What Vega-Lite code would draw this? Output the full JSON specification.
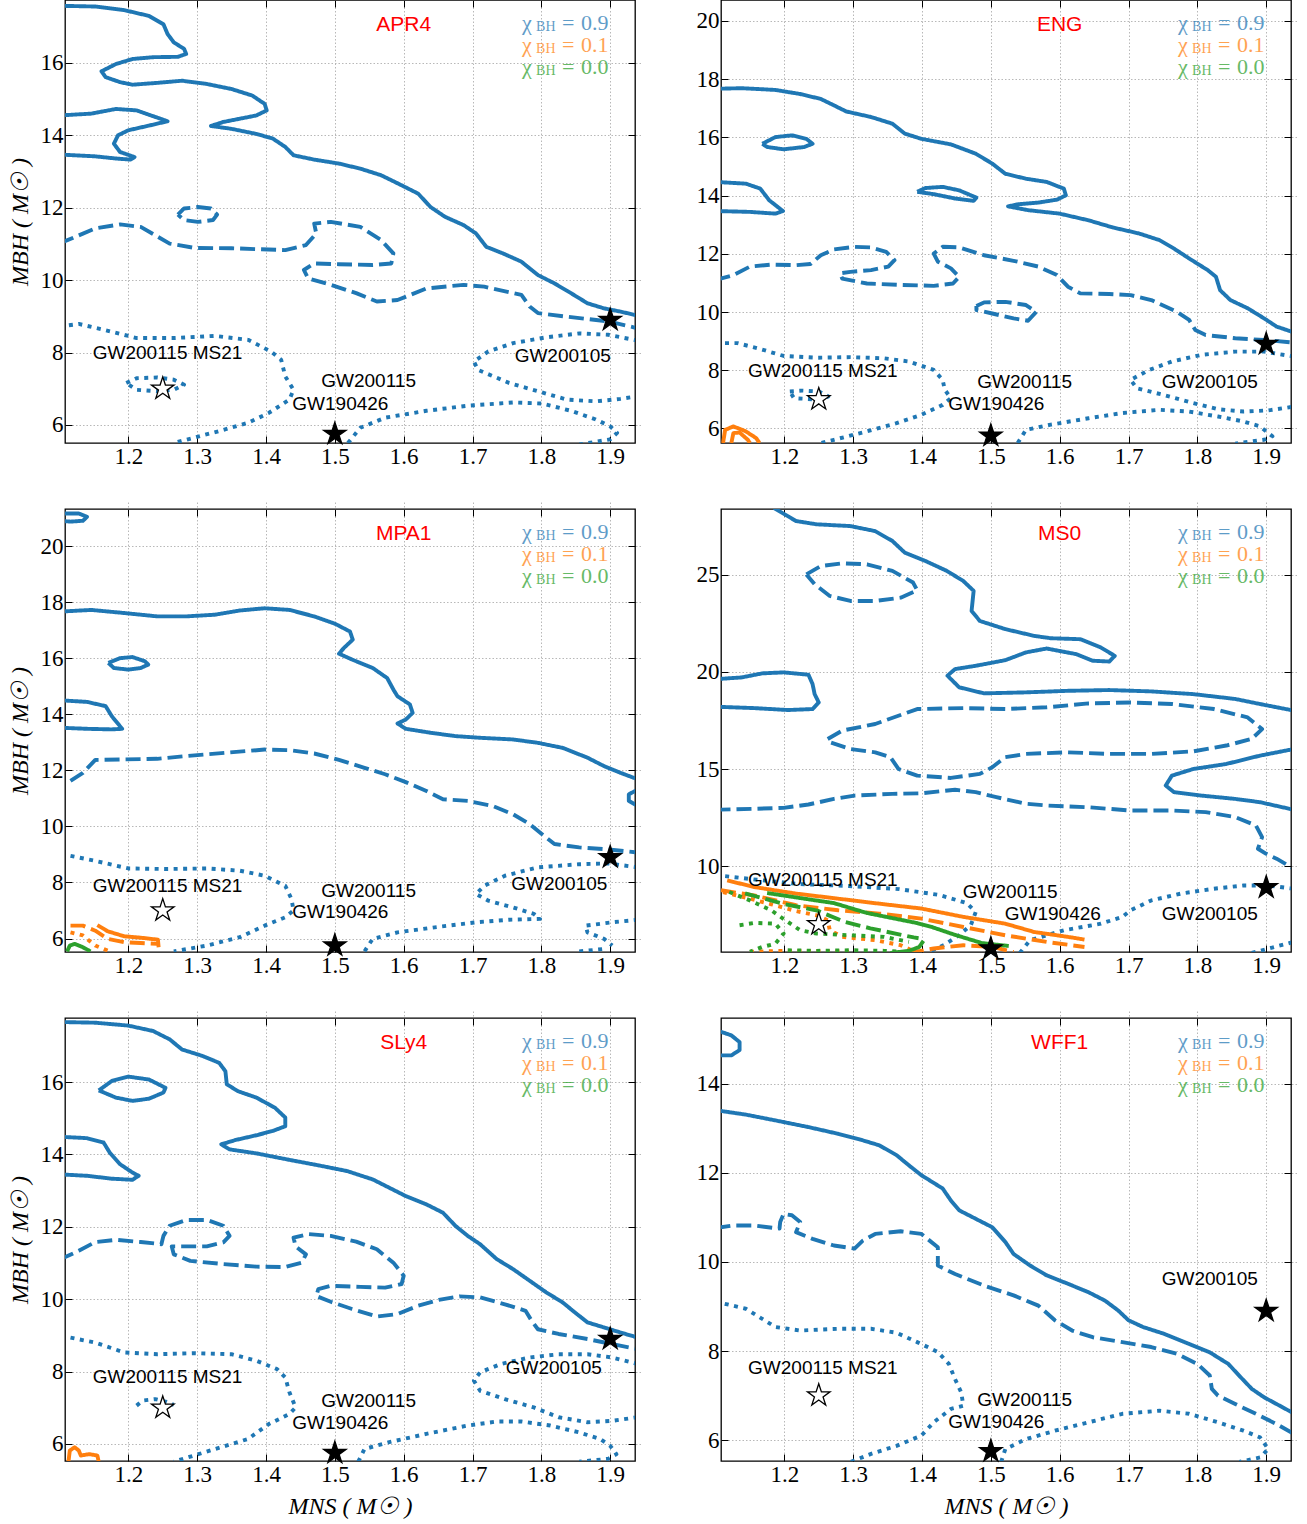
{
"$schema":"https://vega.github.io/schema/vega-lite/v6.json",
"padding":{"left":7,"top":-2,"right":5,"bottom":5},
"config":{
 "view":{"stroke":"#000","strokeWidth":1.3},
 "axis":{"domain":false,"tickColor":"#000","tickSize":7,"offset":-7,"tickWidth":1,"labelFont":"Liberation Serif","labelFontSize":23,"labelColor":"#000","labelPadding":2,"labelFlush":false,"labelOverlap":false,"gridColor":"#b0b0b0","gridDash":[1.5,2],"gridWidth":0.9,"titleFont":"Liberation Serif","titleFontSize":24,"titleFontStyle":"italic","titleFontWeight":"normal","titleColor":"#000","titlePadding":8},
 "line":{"strokeWidth":3.9,"strokeJoin":"round"},
 "text":{"font":"Liberation Sans","fontSize":19,"baseline":"middle","align":"center","color":"#000"}
},
"datasets":{
 "stars":[{"x":1.25,"y":7.0,"f":"open"},{"x":1.5,"y":5.75,"f":"filled"},{"x":1.9,"y":8.9,"f":"filled"}],
 "apr4":[
  {"c":"a","k":"0.9","s":"solid","x":[1.100,1.152,1.194,1.230,1.251,1.257,1.266,1.281,1.284,1.272,1.236,1.206,1.182,1.161,1.167,1.188,1.206,1.242,1.278,1.314,1.350,1.380,1.398,1.401,1.386,1.362,1.338,1.320,1.350,1.386,1.410,1.428,1.440,1.470,1.506,1.537,1.567,1.597,1.621,1.639,1.660,1.687,1.705,1.720,1.744,1.771,1.795,1.819,1.843,1.867,1.891,1.915,1.940],"y":[17.58,17.56,17.46,17.30,17.07,16.80,16.57,16.39,16.25,16.17,16.16,16.11,15.97,15.77,15.61,15.47,15.40,15.45,15.51,15.42,15.28,15.10,14.87,14.69,14.55,14.46,14.37,14.26,14.18,14.04,13.91,13.68,13.45,13.33,13.22,13.08,12.90,12.62,12.39,12.02,11.75,11.52,11.29,10.92,10.74,10.51,10.14,9.91,9.64,9.36,9.22,9.13,9.02]},
  {"c":"b","k":"0.9","s":"solid","x":[1.100,1.146,1.182,1.212,1.257,1.230,1.200,1.185,1.179,1.188,1.209,1.203,1.182,1.152,1.100],"y":[14.55,14.60,14.73,14.69,14.39,14.27,14.14,14.00,13.77,13.54,13.40,13.33,13.36,13.42,13.47]},
  {"c":"c","k":"0.9","s":"dashed","x":[1.272,1.281,1.301,1.320,1.329,1.323,1.301,1.281,1.272],"y":[11.81,11.98,12.02,11.98,11.81,11.66,11.61,11.66,11.81]},
  {"c":"d","k":"0.9","s":"dashed","x":[1.100,1.152,1.188,1.218,1.260,1.296,1.350,1.428,1.458,1.473,1.470,1.494,1.537,1.567,1.585,1.582,1.555,1.506,1.470,1.455,1.461,1.494,1.531,1.561,1.591,1.633,1.687,1.717,1.771,1.783,1.795,1.837,1.897,1.940],"y":[11.01,11.43,11.54,11.47,11.01,10.89,10.88,10.83,10.97,11.29,11.56,11.61,11.47,11.11,10.74,10.46,10.42,10.44,10.46,10.28,10.05,9.87,9.64,9.41,9.45,9.77,9.87,9.82,9.59,9.27,9.09,8.99,8.86,8.67]},
  {"c":"e","k":"0.9","s":"dotted","x":[1.100,1.128,1.164,1.212,1.266,1.326,1.374,1.407,1.422,1.428,1.440,1.434,1.404,1.374,1.332,1.266],"y":[8.72,8.79,8.63,8.40,8.40,8.46,8.35,8.03,7.80,7.34,6.97,6.70,6.33,6.06,5.83,5.50]},
  {"c":"f","k":"0.9","s":"dotted","x":[1.197,1.212,1.242,1.266,1.281,1.266,1.242,1.212,1.197],"y":[7.16,7.29,7.31,7.25,7.11,6.97,6.93,6.97,7.16]},
  {"c":"g","k":"0.9","s":"dotted","x":[1.519,1.537,1.573,1.633,1.693,1.759,1.801,1.843,1.879,1.900,1.910,1.900,1.855],"y":[5.50,5.92,6.20,6.39,6.53,6.62,6.59,6.39,6.15,5.96,5.78,5.60,5.46]},
  {"c":"h","k":"0.9","s":"dotted","x":[1.940,1.897,1.855,1.807,1.759,1.723,1.702,1.708,1.753,1.795,1.837,1.879,1.915,1.940],"y":[8.33,8.49,8.53,8.42,8.26,8.03,7.75,7.52,7.16,6.93,6.70,6.65,6.72,6.79]}
 ],
 "apr4_t":[{"t":"GW200115 MS21","x":1.257,"y":8.0},{"t":"GW200115","x":1.549,"y":7.2},{"t":"GW190426","x":1.508,"y":6.59},{"t":"GW200105","x":1.831,"y":7.9}],
 "apr4_l":[{"v":"0.9","x":1.772,"y":17.10},{"v":"0.1","x":1.772,"y":16.50},{"v":"0.0","x":1.772,"y":15.89}],
 "eng":[
  {"c":"a","k":"0.9","s":"solid","x":[1.100,1.138,1.187,1.223,1.253,1.272,1.290,1.326,1.357,1.375,1.399,1.442,1.478,1.502,1.521,1.551,1.581,1.606,1.609,1.596,1.569,1.539,1.525,1.554,1.600,1.642,1.678,1.715,1.745,1.766,1.788,1.815,1.827,1.833,1.848,1.873,1.897,1.915,1.940],"y":[17.67,17.69,17.63,17.49,17.32,17.10,16.89,16.70,16.47,16.13,15.95,15.76,15.44,15.10,14.75,14.58,14.47,14.24,14.01,13.86,13.76,13.70,13.63,13.50,13.38,13.15,12.90,12.70,12.47,12.18,11.84,11.44,11.21,10.75,10.41,10.13,9.78,9.50,9.30]},
  {"c":"b","k":"0.9","s":"solid","x":[1.100,1.144,1.165,1.178,1.198,1.187,1.150,1.100],"y":[14.47,14.41,14.24,13.84,13.47,13.38,13.44,13.47]},
  {"c":"c","k":"0.9","s":"solid","x":[1.168,1.187,1.211,1.232,1.241,1.229,1.199,1.175,1.168],"y":[15.78,16.01,16.07,15.95,15.78,15.67,15.59,15.67,15.78]},
  {"c":"d","k":"0.9","s":"solid","x":[1.393,1.405,1.430,1.454,1.479,1.475,1.448,1.417,1.393],"y":[14.13,14.26,14.30,14.18,13.93,13.82,13.90,14.05,14.13]},
  {"c":"e","k":"0.9","s":"dashed","x":[1.100,1.126,1.150,1.181,1.217,1.238,1.253,1.272,1.302,1.326,1.348,1.360,1.351,1.326,1.296,1.281,1.284,1.320,1.369,1.417,1.445,1.454,1.442,1.423,1.417,1.430,1.454,1.490,1.533,1.569,1.596,1.612,1.630,1.672,1.703,1.733,1.770,1.788,1.797,1.812,1.855,1.897,1.940],"y":[11.10,11.27,11.56,11.63,11.61,11.65,11.95,12.15,12.24,12.22,12.07,11.78,11.56,11.44,11.38,11.33,11.15,10.98,10.93,10.90,10.98,11.21,11.50,11.73,12.01,12.24,12.22,11.95,11.76,11.56,11.27,10.87,10.64,10.62,10.58,10.41,10.01,9.73,9.38,9.21,9.10,9.04,8.95]},
  {"c":"f","k":"0.9","s":"dashed","x":[1.479,1.490,1.521,1.551,1.566,1.554,1.533,1.502,1.479,1.479],"y":[10.21,10.33,10.35,10.24,10.01,9.70,9.78,9.95,10.07,10.21]},
  {"c":"g","k":"0.9","s":"dotted","x":[1.100,1.132,1.162,1.199,1.247,1.296,1.345,1.381,1.417,1.430,1.433,1.442,1.430,1.399,1.363,1.320,1.272,1.253],"y":[8.93,8.93,8.75,8.49,8.43,8.45,8.41,8.30,8.01,7.67,7.33,7.04,6.81,6.47,6.18,5.90,5.61,5.50]},
  {"c":"h","k":"0.9","s":"dotted","x":[1.208,1.226,1.250,1.264,1.253,1.229,1.214,1.208],"y":[7.27,7.30,7.27,7.10,6.98,7.02,7.04,7.27]},
  {"c":"i","k":"0.9","s":"dotted","x":[1.940,1.897,1.855,1.806,1.763,1.730,1.703,1.712,1.751,1.794,1.830,1.867,1.903,1.940],"y":[8.47,8.64,8.64,8.53,8.30,8.01,7.67,7.38,7.15,6.87,6.66,6.58,6.62,6.75]},
  {"c":"j","k":"0.9","s":"dotted","x":[1.539,1.551,1.587,1.642,1.691,1.745,1.788,1.830,1.867,1.891,1.909,1.897,1.855],"y":[5.50,5.95,6.13,6.35,6.53,6.64,6.58,6.41,6.24,6.07,5.73,5.61,5.48]},
  {"c":"k","k":"0.1","s":"solid","x":[1.111,1.114,1.126,1.144,1.159,1.164],"y":[5.50,5.95,6.07,5.90,5.67,5.50]},
  {"c":"l","k":"0.1","s":"solid","x":[1.123,1.126,1.135,1.147,1.150],"y":[5.50,5.84,5.86,5.61,5.50]}
 ],
 "eng_t":[{"t":"GW200115 MS21","x":1.256,"y":7.99},{"t":"GW200115","x":1.549,"y":7.61},{"t":"GW190426","x":1.508,"y":6.85},{"t":"GW200105","x":1.818,"y":7.61}],
 "eng_l":[{"v":"0.9","x":1.772,"y":19.93},{"v":"0.1","x":1.772,"y":19.17},{"v":"0.0","x":1.772,"y":18.42}],
 "mpa1":[
  {"c":"a","k":"0.9","s":"solid","x":[1.100,1.146,1.194,1.242,1.284,1.326,1.362,1.398,1.434,1.470,1.500,1.522,1.526,1.513,1.506,1.525,1.555,1.576,1.585,1.591,1.609,1.613,1.603,1.591,1.603,1.639,1.675,1.711,1.759,1.795,1.831,1.867,1.891,1.915,1.940],"y":[17.66,17.72,17.61,17.49,17.49,17.55,17.70,17.78,17.72,17.49,17.23,16.95,16.66,16.36,16.16,15.95,15.65,15.29,14.88,14.64,14.35,14.05,13.81,13.67,13.48,13.34,13.22,13.16,13.10,12.98,12.80,12.45,12.15,11.91,11.68]},
  {"c":"b","k":"0.9","s":"solid","x":[1.100,1.140,1.167,1.176,1.191,1.176,1.140,1.100],"y":[14.50,14.44,14.29,13.93,13.48,13.46,13.48,13.52]},
  {"c":"c","k":"0.9","s":"solid","x":[1.171,1.188,1.206,1.224,1.229,1.218,1.200,1.179,1.171],"y":[15.83,16.00,16.04,15.89,15.77,15.65,15.59,15.65,15.83]},
  {"c":"d","k":"0.9","s":"solid","x":[1.100,1.128,1.140,1.134,1.116,1.100],"y":[21.16,21.16,21.04,20.90,20.87,20.90]},
  {"c":"e","k":"0.9","s":"solid","x":[1.940,1.927,1.927,1.940],"y":[11.32,11.14,10.91,10.73]},
  {"c":"f","k":"0.9","s":"dashed","x":[1.116,1.134,1.152,1.194,1.242,1.284,1.344,1.398,1.434,1.470,1.506,1.543,1.573,1.603,1.633,1.657,1.693,1.729,1.759,1.783,1.801,1.819,1.855,1.891,1.940],"y":[11.62,11.91,12.37,12.39,12.41,12.51,12.63,12.74,12.72,12.60,12.37,12.09,11.86,11.58,11.26,10.97,10.91,10.73,10.43,10.08,9.72,9.37,9.25,9.19,9.07]},
  {"c":"g","k":"0.9","s":"dotted","x":[1.116,1.152,1.200,1.254,1.314,1.362,1.398,1.428,1.437,1.440,1.428,1.398,1.362,1.314,1.266],"y":[8.95,8.77,8.50,8.48,8.50,8.42,8.24,7.88,7.41,7.00,6.76,6.46,6.05,5.75,5.54]},
  {"c":"h","k":"0.9","s":"dotted","x":[1.940,1.897,1.855,1.795,1.747,1.717,1.705,1.723,1.759,1.789,1.798,1.753,1.705,1.645,1.591,1.555,1.543],"y":[8.54,8.68,8.65,8.54,8.24,7.88,7.59,7.35,7.11,6.88,6.70,6.67,6.58,6.40,6.22,5.99,5.54]},
  {"c":"i","k":"0.9","s":"dotted","x":[1.940,1.903,1.864,1.867,1.891,1.903],"y":[6.67,6.58,6.46,6.22,5.99,5.75]},
  {"c":"j","k":"0.9","s":"dotted","x":[1.855,1.891],"y":[5.54,5.63]},
  {"c":"k","k":"0.1","s":"solid","x":[1.155,1.170,1.194,1.218,1.243,1.244],"y":[6.48,6.26,6.08,6.03,5.96,5.69]},
  {"c":"l","k":"0.1","s":"dashed","x":[1.116,1.134,1.152,1.170,1.194,1.218,1.242],"y":[6.46,6.46,6.28,5.99,5.87,5.84,5.81]},
  {"c":"m","k":"0.1","s":"dotted","x":[1.116,1.134,1.152,1.170],"y":[6.22,6.11,5.75,5.57]},
  {"c":"n","k":"0.0","s":"solid","x":[1.111,1.115,1.122,1.134,1.143,1.145],"y":[5.54,5.75,5.81,5.69,5.57,5.54]}
 ],
 "mpa1_t":[{"t":"GW200115 MS21","x":1.257,"y":7.88},{"t":"GW200115","x":1.549,"y":7.71},{"t":"GW190426","x":1.508,"y":6.94},{"t":"GW200105","x":1.826,"y":7.94}],
 "mpa1_l":[{"v":"0.9","x":1.772,"y":20.50},{"v":"0.1","x":1.772,"y":19.72},{"v":"0.0","x":1.772,"y":18.93}],
 "ms0":[
  {"c":"a","k":"0.9","s":"solid","x":[1.185,1.217,1.247,1.296,1.332,1.357,1.375,1.405,1.436,1.460,1.475,1.472,1.484,1.521,1.563,1.587,1.630,1.660,1.680,1.672,1.648,1.624,1.581,1.551,1.521,1.478,1.448,1.437,1.454,1.490,1.551,1.612,1.672,1.733,1.794,1.855,1.891,1.940],"y":[28.45,27.78,27.61,27.52,27.26,26.75,26.15,25.72,25.21,24.69,24.18,23.15,22.63,22.21,21.86,21.74,21.69,21.26,20.83,20.54,20.58,20.92,21.21,21.01,20.61,20.32,20.15,19.81,19.21,18.90,18.95,19.03,19.07,19.00,18.86,18.61,18.35,18.01]},
  {"c":"b","k":"0.9","s":"solid","x":[1.100,1.138,1.168,1.199,1.235,1.241,1.244,1.250,1.241,1.205,1.156,1.100],"y":[19.63,19.72,19.93,19.98,19.86,19.38,18.86,18.43,18.09,18.04,18.14,18.21]},
  {"c":"c","k":"0.9","s":"solid","x":[1.940,1.891,1.842,1.794,1.763,1.754,1.766,1.806,1.855,1.891,1.940],"y":[16.03,15.69,15.26,15.00,14.66,14.15,13.81,13.63,13.46,13.29,12.90]},
  {"c":"d","k":"0.9","s":"dashed","x":[1.232,1.253,1.284,1.320,1.357,1.387,1.393,1.369,1.332,1.296,1.266,1.244,1.232],"y":[25.03,25.46,25.60,25.55,25.21,24.61,24.21,23.83,23.66,23.66,23.92,24.52,25.03]},
  {"c":"e","k":"0.9","s":"dashed","x":[1.263,1.284,1.332,1.393,1.460,1.521,1.581,1.642,1.703,1.763,1.824,1.873,1.894,1.879,1.842,1.794,1.733,1.672,1.612,1.551,1.521,1.502,1.484,1.442,1.393,1.366,1.354,1.332,1.296,1.266,1.263],"y":[16.55,16.98,17.32,18.09,18.14,18.09,18.18,18.38,18.43,18.35,18.09,17.66,17.06,16.55,16.21,15.91,15.78,15.78,15.86,15.78,15.61,15.09,14.75,14.54,14.66,15.00,15.61,15.86,16.03,16.38,16.55]},
  {"c":"f","k":"0.9","s":"dashed","x":[1.100,1.156,1.199,1.235,1.272,1.302,1.357,1.399,1.448,1.478,1.508,1.551,1.581,1.642,1.703,1.763,1.812,1.855,1.885,1.894,1.888,1.900,1.915,1.940],"y":[12.90,12.95,13.00,13.17,13.46,13.63,13.72,13.75,13.93,13.81,13.55,13.21,13.12,13.03,12.86,12.86,12.78,12.52,12.09,11.49,10.89,10.63,10.38,9.86]},
  {"c":"g","k":"0.9","s":"dotted","x":[1.542,1.557,1.606,1.660,1.691,1.703,1.733,1.776,1.824,1.867,1.903,1.940],"y":[5.52,6.18,6.69,7.03,7.38,7.72,8.23,8.58,8.83,9.00,9.00,8.83]},
  {"c":"h","k":"0.9","s":"dotted","x":[1.879,1.940],"y":[5.52,6.09]},
  {"c":"i","k":"0.9","s":"dotted","x":[1.114,1.164,1.222,1.294,1.367,1.425,1.465,1.478,1.471,1.454,1.432,1.410],"y":[9.48,9.28,9.07,8.97,8.81,8.51,8.09,7.63,6.96,6.44,5.93,5.57]},
  {"c":"j","k":"0.1","s":"solid","x":[1.117,1.156,1.217,1.278,1.338,1.399,1.460,1.521,1.563,1.612,1.636],"y":[9.26,8.92,8.58,8.32,8.06,7.81,7.38,7.03,6.60,6.35,6.21]},
  {"c":"k","k":"0.1","s":"dashed","x":[1.108,1.156,1.217,1.278,1.338,1.399,1.460,1.521,1.581,1.636],"y":[8.75,8.49,7.98,7.72,7.55,7.29,6.86,6.43,6.09,5.83]},
  {"c":"l","k":"0.1","s":"dashed","x":[1.381,1.417,1.460,1.502,1.533],"y":[5.52,5.75,5.92,5.83,5.57]},
  {"c":"m","k":"0.1","s":"dotted","x":[1.111,1.144,1.181,1.217,1.247,1.263,1.266,1.284,1.332,1.369,1.393],"y":[8.66,8.37,8.03,7.68,7.46,7.21,6.69,6.35,6.18,5.92,5.52]},
  {"c":"n","k":"0.1","s":"dotted","x":[1.150,1.187,1.247,1.296],"y":[5.58,5.62,5.62,5.58]},
  {"c":"o","k":"0.0","s":"solid","x":[1.175,1.223,1.272,1.320,1.393,1.414,1.449,1.487,1.526],"y":[8.61,8.35,8.09,7.58,7.06,6.86,6.44,6.03,5.88]},
  {"c":"p","k":"0.0","s":"solid","x":[1.354,1.381,1.396,1.402],"y":[5.52,5.63,5.83,6.14]},
  {"c":"q","k":"0.0","s":"dashed","x":[1.143,1.200,1.248,1.287,1.325,1.388,1.395],"y":[8.59,8.04,7.70,7.13,6.79,6.32,6.28]},
  {"c":"r","k":"0.0","s":"dotted","x":[1.120,1.150,1.181,1.205,1.223,1.247,1.296,1.345,1.381],"y":[8.66,8.23,7.72,7.12,6.69,6.52,6.43,6.35,6.09]},
  {"c":"s","k":"0.0","s":"dotted","x":[1.135,1.156,1.187,1.199,1.187,1.168,1.150],"y":[6.95,7.07,7.03,6.52,6.00,5.83,5.58]},
  {"c":"t","k":"0.0","s":"dotted","x":[1.205,1.247,1.296,1.345,1.369],"y":[5.66,5.63,5.66,5.63,5.58]}
 ],
 "ms0_t":[{"t":"GW200115 MS21","x":1.256,"y":9.26},{"t":"GW200115","x":1.528,"y":8.66},{"t":"GW190426","x":1.590,"y":7.55},{"t":"GW200105","x":1.818,"y":7.55}],
 "ms0_l":[{"v":"0.9","x":1.772,"y":27.21},{"v":"0.1","x":1.772,"y":26.08},{"v":"0.0","x":1.772,"y":24.95}],
 "sly4":[
  {"c":"a","k":"0.9","s":"solid","x":[1.100,1.152,1.200,1.236,1.260,1.278,1.308,1.332,1.341,1.343,1.359,1.386,1.413,1.428,1.428,1.410,1.386,1.356,1.335,1.347,1.386,1.434,1.476,1.518,1.555,1.579,1.603,1.633,1.657,1.675,1.693,1.711,1.735,1.759,1.783,1.807,1.831,1.849,1.867,1.891,1.915,1.940],"y":[17.66,17.64,17.56,17.41,17.18,16.90,16.72,16.53,16.30,15.94,15.75,15.57,15.29,15.02,14.78,14.65,14.53,14.40,14.28,14.14,14.03,13.85,13.70,13.54,13.31,13.08,12.85,12.62,12.39,12.03,11.75,11.52,11.11,10.83,10.51,10.19,9.91,9.63,9.36,9.22,9.08,8.94]},
  {"c":"b","k":"0.9","s":"solid","x":[1.100,1.140,1.164,1.173,1.188,1.206,1.215,1.206,1.176,1.140,1.100],"y":[14.49,14.45,14.33,14.05,13.73,13.50,13.41,13.30,13.33,13.41,13.45]},
  {"c":"c","k":"0.9","s":"solid","x":[1.157,1.176,1.200,1.230,1.254,1.251,1.230,1.206,1.182,1.157],"y":[15.77,16.03,16.15,16.07,15.84,15.71,15.54,15.48,15.57,15.77]},
  {"c":"d","k":"0.9","s":"dashed","x":[1.100,1.128,1.152,1.182,1.218,1.248,1.251,1.260,1.284,1.314,1.338,1.347,1.338,1.314,1.284,1.263,1.266,1.290,1.338,1.386,1.428,1.452,1.458,1.443,1.440,1.461,1.494,1.531,1.561,1.585,1.600,1.597,1.573,1.537,1.494,1.476,1.473,1.494,1.525,1.561,1.591,1.621,1.651,1.681,1.711,1.747,1.777,1.786,1.795,1.825,1.867,1.903,1.940],"y":[11.09,11.34,11.58,11.64,11.58,11.52,11.75,12.03,12.19,12.19,12.03,11.75,11.57,11.46,11.46,11.46,11.24,11.06,10.97,10.90,10.89,11.01,11.24,11.46,11.70,11.80,11.75,11.59,11.38,11.01,10.65,10.42,10.32,10.34,10.37,10.28,10.09,9.93,9.73,9.52,9.59,9.82,9.98,10.08,10.05,9.86,9.68,9.40,9.17,9.04,8.90,8.76,8.62]},
  {"c":"e","k":"0.9","s":"dotted","x":[1.116,1.152,1.194,1.242,1.296,1.350,1.386,1.416,1.428,1.434,1.443,1.434,1.404,1.374,1.326,1.266],"y":[8.94,8.80,8.53,8.48,8.51,8.48,8.30,8.07,7.84,7.43,7.01,6.83,6.55,6.14,5.86,5.51]},
  {"c":"f","k":"0.9","s":"dotted","x":[1.212,1.221,1.239,1.254,1.266],"y":[7.06,7.20,7.24,7.17,7.08]},
  {"c":"g","k":"0.9","s":"dotted","x":[1.940,1.903,1.867,1.825,1.783,1.741,1.711,1.702,1.711,1.747,1.789,1.825,1.867,1.903,1.940],"y":[8.21,8.39,8.48,8.48,8.39,8.21,7.98,7.75,7.47,7.24,7.01,6.74,6.60,6.64,6.74]},
  {"c":"h","k":"0.9","s":"dotted","x":[1.534,1.543,1.579,1.633,1.693,1.735,1.771,1.813,1.855,1.885,1.900,1.909,1.897,1.855],"y":[5.51,5.86,6.05,6.28,6.51,6.62,6.62,6.51,6.32,6.14,5.95,5.72,5.59,5.51]},
  {"c":"i","k":"0.1","s":"solid","x":[1.113,1.115,1.122,1.128,1.131,1.143,1.155,1.157],"y":[5.51,5.82,5.91,5.82,5.68,5.72,5.68,5.51]}
 ],
 "sly4_t":[{"t":"GW200115 MS21","x":1.257,"y":7.84},{"t":"GW200115","x":1.549,"y":7.20},{"t":"GW190426","x":1.508,"y":6.58},{"t":"GW200105","x":1.818,"y":8.09}],
 "sly4_l":[{"v":"0.9","x":1.772,"y":17.13},{"v":"0.1","x":1.772,"y":16.53},{"v":"0.0","x":1.772,"y":15.92}],
 "wff1":[
  {"c":"a","k":"0.9","s":"solid","x":[1.100,1.144,1.187,1.235,1.278,1.308,1.338,1.363,1.381,1.399,1.430,1.442,1.454,1.478,1.502,1.521,1.533,1.557,1.581,1.612,1.642,1.666,1.685,1.700,1.721,1.751,1.788,1.818,1.845,1.863,1.879,1.897,1.915,1.940],"y":[13.41,13.31,13.18,13.03,12.88,12.76,12.62,12.40,12.17,11.95,11.65,11.38,11.16,10.97,10.78,10.45,10.18,9.92,9.70,9.51,9.32,9.13,8.91,8.69,8.54,8.39,8.16,7.97,7.71,7.41,7.15,6.96,6.81,6.60]},
  {"c":"b","k":"0.9","s":"solid","x":[1.100,1.108,1.123,1.135,1.135,1.123,1.108,1.100],"y":[15.20,15.17,15.09,14.94,14.76,14.64,14.64,14.65]},
  {"c":"c","k":"0.9","s":"dashed","x":[1.100,1.126,1.156,1.193,1.194,1.199,1.211,1.223,1.217,1.241,1.272,1.302,1.314,1.332,1.369,1.399,1.423,1.423,1.448,1.490,1.533,1.569,1.593,1.618,1.648,1.691,1.733,1.770,1.800,1.818,1.821,1.830,1.855,1.885,1.915,1.940],"y":[10.76,10.82,10.82,10.75,10.90,11.08,11.05,10.90,10.67,10.52,10.37,10.30,10.48,10.63,10.69,10.63,10.33,9.92,9.73,9.47,9.25,9.02,8.69,8.46,8.31,8.20,8.09,7.94,7.71,7.45,7.15,7.00,6.81,6.59,6.36,6.14]},
  {"c":"d","k":"0.9","s":"dotted","x":[1.100,1.144,1.187,1.223,1.278,1.326,1.363,1.393,1.423,1.439,1.448,1.457,1.460,1.442,1.417,1.399,1.363,1.326,1.296],"y":[9.11,8.95,8.54,8.46,8.50,8.50,8.41,8.20,7.98,7.71,7.37,7.07,6.77,6.70,6.40,6.10,5.87,5.69,5.51]},
  {"c":"e","k":"0.9","s":"dotted","x":[1.515,1.521,1.551,1.593,1.642,1.691,1.745,1.788,1.830,1.867,1.891,1.903,1.891,1.861],"y":[5.51,5.80,6.02,6.21,6.40,6.59,6.66,6.59,6.40,6.21,6.06,5.80,5.61,5.51]}
 ],
 "wff1_t":[{"t":"GW200115 MS21","x":1.256,"y":7.61},{"t":"GW200115","x":1.549,"y":6.89},{"t":"GW190426","x":1.508,"y":6.40},{"t":"GW200105","x":1.818,"y":9.62}],
 "wff1_l":[{"v":"0.9","x":1.772,"y":14.96},{"v":"0.1","x":1.772,"y":14.47},{"v":"0.0","x":1.772,"y":13.98}]
},
"columns":2,
"spacing":{"row":66,"column":86},
"bounds":"flush",
"concat":[
 {"width":570,"height":443,"resolve":{"axis":{"x":"independent","y":"independent"}},
  "layer":[
   {"data":{"name":"apr4"},"transform":[{"flatten":["x","y"]},{"window":[{"op":"row_number","as":"i"}],"groupby":["c"]}],"mark":{"type":"line","clip":true},
    "encoding":{
     "x":{"field":"x","type":"quantitative","scale":{"domain":[1.108,1.936],"nice":false,"zero":false},"axis":{"values":[1.2,1.3,1.4,1.5,1.6,1.7,1.8,1.9],"format":".1f","title":null}},
     "y":{"field":"y","type":"quantitative","scale":{"domain":[5.5,17.74],"nice":false,"zero":false},"axis":{"values":[6,8,10,12,14,16],"title":"MBH ( M☉ )"}},
     "color":{"field":"k","type":"nominal","scale":{"domain":["0.9","0.1","0.0"],"range":["#1f77b4","#ff7f0e","#2ca02c"]},"legend":null},
     "strokeDash":{"field":"s","type":"nominal","scale":{"domain":["solid","dashed","dotted"],"range":[[1,0],[15,6],[4,5.5]]},"legend":null},
     "detail":{"field":"c"},
     "order":{"field":"i","type":"quantitative"}}},
   {"data":{"name":"apr4_t"},"mark":"text","encoding":{"x":{"field":"x","type":"quantitative","axis":null},"y":{"field":"y","type":"quantitative","axis":null},"text":{"field":"t"}}},
   {"data":{"values":[{"t":"APR4","x":1.6,"y":17.05}]},"mark":{"type":"text","fontSize":21,"color":"#ff0000"},"encoding":{"x":{"field":"x","type":"quantitative","axis":null},"y":{"field":"y","type":"quantitative","axis":null},"text":{"field":"t"}}},
   {"data":{"name":"apr4_l"},"mark":{"type":"text","align":"left","font":"Liberation Serif","fontSize":22,"opacity":0.72},"encoding":{"x":{"field":"x","type":"quantitative","axis":null},"y":{"field":"y","type":"quantitative","axis":null},"text":{"value":"χ"},"color":{"field":"v","type":"nominal","scale":{"domain":["0.9","0.1","0.0"],"range":["#1f77b4","#ff7f0e","#2ca02c"]},"legend":null}}},
   {"data":{"name":"apr4_l"},"mark":{"type":"text","align":"left","font":"Liberation Serif","fontSize":14,"dx":14,"dy":4,"opacity":0.72},"encoding":{"x":{"field":"x","type":"quantitative","axis":null},"y":{"field":"y","type":"quantitative","axis":null},"text":{"value":"BH"},"color":{"field":"v","type":"nominal","scale":{"domain":["0.9","0.1","0.0"],"range":["#1f77b4","#ff7f0e","#2ca02c"]},"legend":null}}},
   {"data":{"name":"apr4_l"},"mark":{"type":"text","align":"left","font":"Liberation Serif","fontSize":22,"dx":40,"opacity":0.72},"encoding":{"x":{"field":"x","type":"quantitative","axis":null},"y":{"field":"y","type":"quantitative","axis":null},"text":{"value":"="},"color":{"field":"v","type":"nominal","scale":{"domain":["0.9","0.1","0.0"],"range":["#1f77b4","#ff7f0e","#2ca02c"]},"legend":null}}},
   {"data":{"name":"apr4_l"},"mark":{"type":"text","align":"left","font":"Liberation Serif","fontSize":22,"dx":59,"opacity":0.72},"encoding":{"x":{"field":"x","type":"quantitative","axis":null},"y":{"field":"y","type":"quantitative","axis":null},"text":{"field":"v"},"color":{"field":"v","type":"nominal","scale":{"domain":["0.9","0.1","0.0"],"range":["#1f77b4","#ff7f0e","#2ca02c"]},"legend":null}}},
   {"data":{"name":"stars"},"transform":[{"filter":{"field":"f","equal":"filled"}}],"mark":{"type":"point","shape":"M0,-1L0.2245,-0.309L0.951,-0.309L0.363,0.118L0.588,0.809L0,0.382L-0.588,0.809L-0.363,0.118L-0.951,-0.309L-0.2245,-0.309Z","size":560,"filled":true,"fill":"#000","stroke":"#000","strokeWidth":1.3,"opacity":1},
    "encoding":{"x":{"field":"x","type":"quantitative","axis":{"orient":"top","values":[1.2,1.3,1.4,1.5,1.6,1.7,1.8,1.9],"labels":false,"grid":false,"title":null}},"y":{"field":"y","type":"quantitative","axis":{"orient":"right","values":[6,8,10,12,14,16],"labels":false,"grid":false,"title":null}}}},
   {"data":{"name":"stars"},"transform":[{"filter":{"field":"f","equal":"open"}}],"mark":{"type":"point","shape":"M0,-1L0.2245,-0.309L0.951,-0.309L0.363,0.118L0.588,0.809L0,0.382L-0.588,0.809L-0.363,0.118L-0.951,-0.309L-0.2245,-0.309Z","size":560,"filled":true,"fill":"#fff","stroke":"#000","strokeWidth":1.3,"opacity":1},
    "encoding":{"x":{"field":"x","type":"quantitative","axis":null},"y":{"field":"y","type":"quantitative","axis":null}}}
  ]},
 {"width":570,"height":443,"resolve":{"axis":{"x":"independent","y":"independent"}},
  "layer":[
   {"data":{"name":"eng"},"transform":[{"flatten":["x","y"]},{"window":[{"op":"row_number","as":"i"}],"groupby":["c"]}],"mark":{"type":"line","clip":true},
    "encoding":{
     "x":{"field":"x","type":"quantitative","scale":{"domain":[1.108,1.936],"nice":false,"zero":false},"axis":{"values":[1.2,1.3,1.4,1.5,1.6,1.7,1.8,1.9],"format":".1f","title":null}},
     "y":{"field":"y","type":"quantitative","scale":{"domain":[5.5,20.72],"nice":false,"zero":false},"axis":{"values":[6,8,10,12,14,16,18,20],"title":null}},
     "color":{"field":"k","type":"nominal","scale":{"domain":["0.9","0.1","0.0"],"range":["#1f77b4","#ff7f0e","#2ca02c"]},"legend":null},
     "strokeDash":{"field":"s","type":"nominal","scale":{"domain":["solid","dashed","dotted"],"range":[[1,0],[15,6],[4,5.5]]},"legend":null},
     "detail":{"field":"c"},
     "order":{"field":"i","type":"quantitative"}}},
   {"data":{"name":"eng_t"},"mark":"text","encoding":{"x":{"field":"x","type":"quantitative","axis":null},"y":{"field":"y","type":"quantitative","axis":null},"text":{"field":"t"}}},
   {"data":{"values":[{"t":"ENG","x":1.6,"y":19.86}]},"mark":{"type":"text","fontSize":21,"color":"#ff0000"},"encoding":{"x":{"field":"x","type":"quantitative","axis":null},"y":{"field":"y","type":"quantitative","axis":null},"text":{"field":"t"}}},
   {"data":{"name":"eng_l"},"mark":{"type":"text","align":"left","font":"Liberation Serif","fontSize":22,"opacity":0.72},"encoding":{"x":{"field":"x","type":"quantitative","axis":null},"y":{"field":"y","type":"quantitative","axis":null},"text":{"value":"χ"},"color":{"field":"v","type":"nominal","scale":{"domain":["0.9","0.1","0.0"],"range":["#1f77b4","#ff7f0e","#2ca02c"]},"legend":null}}},
   {"data":{"name":"eng_l"},"mark":{"type":"text","align":"left","font":"Liberation Serif","fontSize":14,"dx":14,"dy":4,"opacity":0.72},"encoding":{"x":{"field":"x","type":"quantitative","axis":null},"y":{"field":"y","type":"quantitative","axis":null},"text":{"value":"BH"},"color":{"field":"v","type":"nominal","scale":{"domain":["0.9","0.1","0.0"],"range":["#1f77b4","#ff7f0e","#2ca02c"]},"legend":null}}},
   {"data":{"name":"eng_l"},"mark":{"type":"text","align":"left","font":"Liberation Serif","fontSize":22,"dx":40,"opacity":0.72},"encoding":{"x":{"field":"x","type":"quantitative","axis":null},"y":{"field":"y","type":"quantitative","axis":null},"text":{"value":"="},"color":{"field":"v","type":"nominal","scale":{"domain":["0.9","0.1","0.0"],"range":["#1f77b4","#ff7f0e","#2ca02c"]},"legend":null}}},
   {"data":{"name":"eng_l"},"mark":{"type":"text","align":"left","font":"Liberation Serif","fontSize":22,"dx":59,"opacity":0.72},"encoding":{"x":{"field":"x","type":"quantitative","axis":null},"y":{"field":"y","type":"quantitative","axis":null},"text":{"field":"v"},"color":{"field":"v","type":"nominal","scale":{"domain":["0.9","0.1","0.0"],"range":["#1f77b4","#ff7f0e","#2ca02c"]},"legend":null}}},
   {"data":{"name":"stars"},"transform":[{"filter":{"field":"f","equal":"filled"}}],"mark":{"type":"point","shape":"M0,-1L0.2245,-0.309L0.951,-0.309L0.363,0.118L0.588,0.809L0,0.382L-0.588,0.809L-0.363,0.118L-0.951,-0.309L-0.2245,-0.309Z","size":560,"filled":true,"fill":"#000","stroke":"#000","strokeWidth":1.3,"opacity":1},
    "encoding":{"x":{"field":"x","type":"quantitative","axis":{"orient":"top","values":[1.2,1.3,1.4,1.5,1.6,1.7,1.8,1.9],"labels":false,"grid":false,"title":null}},"y":{"field":"y","type":"quantitative","axis":{"orient":"right","values":[6,8,10,12,14,16,18,20],"labels":false,"grid":false,"title":null}}}},
   {"data":{"name":"stars"},"transform":[{"filter":{"field":"f","equal":"open"}}],"mark":{"type":"point","shape":"M0,-1L0.2245,-0.309L0.951,-0.309L0.363,0.118L0.588,0.809L0,0.382L-0.588,0.809L-0.363,0.118L-0.951,-0.309L-0.2245,-0.309Z","size":560,"filled":true,"fill":"#fff","stroke":"#000","strokeWidth":1.3,"opacity":1},
    "encoding":{"x":{"field":"x","type":"quantitative","axis":null},"y":{"field":"y","type":"quantitative","axis":null}}}
  ]},
 {"width":570,"height":443,"resolve":{"axis":{"x":"independent","y":"independent"}},
  "layer":[
   {"data":{"name":"mpa1"},"transform":[{"flatten":["x","y"]},{"window":[{"op":"row_number","as":"i"}],"groupby":["c"]}],"mark":{"type":"line","clip":true},
    "encoding":{
     "x":{"field":"x","type":"quantitative","scale":{"domain":[1.108,1.936],"nice":false,"zero":false},"axis":{"values":[1.2,1.3,1.4,1.5,1.6,1.7,1.8,1.9],"format":".1f","title":null}},
     "y":{"field":"y","type":"quantitative","scale":{"domain":[5.52,21.32],"nice":false,"zero":false},"axis":{"values":[6,8,10,12,14,16,18,20],"title":"MBH ( M☉ )"}},
     "color":{"field":"k","type":"nominal","scale":{"domain":["0.9","0.1","0.0"],"range":["#1f77b4","#ff7f0e","#2ca02c"]},"legend":null},
     "strokeDash":{"field":"s","type":"nominal","scale":{"domain":["solid","dashed","dotted"],"range":[[1,0],[15,6],[4,5.5]]},"legend":null},
     "detail":{"field":"c"},
     "order":{"field":"i","type":"quantitative"}}},
   {"data":{"name":"mpa1_t"},"mark":"text","encoding":{"x":{"field":"x","type":"quantitative","axis":null},"y":{"field":"y","type":"quantitative","axis":null},"text":{"field":"t"}}},
   {"data":{"values":[{"t":"MPA1","x":1.6,"y":20.43}]},"mark":{"type":"text","fontSize":21,"color":"#ff0000"},"encoding":{"x":{"field":"x","type":"quantitative","axis":null},"y":{"field":"y","type":"quantitative","axis":null},"text":{"field":"t"}}},
   {"data":{"name":"mpa1_l"},"mark":{"type":"text","align":"left","font":"Liberation Serif","fontSize":22,"opacity":0.72},"encoding":{"x":{"field":"x","type":"quantitative","axis":null},"y":{"field":"y","type":"quantitative","axis":null},"text":{"value":"χ"},"color":{"field":"v","type":"nominal","scale":{"domain":["0.9","0.1","0.0"],"range":["#1f77b4","#ff7f0e","#2ca02c"]},"legend":null}}},
   {"data":{"name":"mpa1_l"},"mark":{"type":"text","align":"left","font":"Liberation Serif","fontSize":14,"dx":14,"dy":4,"opacity":0.72},"encoding":{"x":{"field":"x","type":"quantitative","axis":null},"y":{"field":"y","type":"quantitative","axis":null},"text":{"value":"BH"},"color":{"field":"v","type":"nominal","scale":{"domain":["0.9","0.1","0.0"],"range":["#1f77b4","#ff7f0e","#2ca02c"]},"legend":null}}},
   {"data":{"name":"mpa1_l"},"mark":{"type":"text","align":"left","font":"Liberation Serif","fontSize":22,"dx":40,"opacity":0.72},"encoding":{"x":{"field":"x","type":"quantitative","axis":null},"y":{"field":"y","type":"quantitative","axis":null},"text":{"value":"="},"color":{"field":"v","type":"nominal","scale":{"domain":["0.9","0.1","0.0"],"range":["#1f77b4","#ff7f0e","#2ca02c"]},"legend":null}}},
   {"data":{"name":"mpa1_l"},"mark":{"type":"text","align":"left","font":"Liberation Serif","fontSize":22,"dx":59,"opacity":0.72},"encoding":{"x":{"field":"x","type":"quantitative","axis":null},"y":{"field":"y","type":"quantitative","axis":null},"text":{"field":"v"},"color":{"field":"v","type":"nominal","scale":{"domain":["0.9","0.1","0.0"],"range":["#1f77b4","#ff7f0e","#2ca02c"]},"legend":null}}},
   {"data":{"name":"stars"},"transform":[{"filter":{"field":"f","equal":"filled"}}],"mark":{"type":"point","shape":"M0,-1L0.2245,-0.309L0.951,-0.309L0.363,0.118L0.588,0.809L0,0.382L-0.588,0.809L-0.363,0.118L-0.951,-0.309L-0.2245,-0.309Z","size":560,"filled":true,"fill":"#000","stroke":"#000","strokeWidth":1.3,"opacity":1},
    "encoding":{"x":{"field":"x","type":"quantitative","axis":{"orient":"top","values":[1.2,1.3,1.4,1.5,1.6,1.7,1.8,1.9],"labels":false,"grid":false,"title":null}},"y":{"field":"y","type":"quantitative","axis":{"orient":"right","values":[6,8,10,12,14,16,18,20],"labels":false,"grid":false,"title":null}}}},
   {"data":{"name":"stars"},"transform":[{"filter":{"field":"f","equal":"open"}}],"mark":{"type":"point","shape":"M0,-1L0.2245,-0.309L0.951,-0.309L0.363,0.118L0.588,0.809L0,0.382L-0.588,0.809L-0.363,0.118L-0.951,-0.309L-0.2245,-0.309Z","size":560,"filled":true,"fill":"#fff","stroke":"#000","strokeWidth":1.3,"opacity":1},
    "encoding":{"x":{"field":"x","type":"quantitative","axis":null},"y":{"field":"y","type":"quantitative","axis":null}}}
  ]},
 {"width":570,"height":443,"resolve":{"axis":{"x":"independent","y":"independent"}},
  "layer":[
   {"data":{"name":"ms0"},"transform":[{"flatten":["x","y"]},{"window":[{"op":"row_number","as":"i"}],"groupby":["c"]}],"mark":{"type":"line","clip":true},
    "encoding":{
     "x":{"field":"x","type":"quantitative","scale":{"domain":[1.108,1.936],"nice":false,"zero":false},"axis":{"values":[1.2,1.3,1.4,1.5,1.6,1.7,1.8,1.9],"format":".1f","title":null}},
     "y":{"field":"y","type":"quantitative","scale":{"domain":[5.57,28.4],"nice":false,"zero":false},"axis":{"values":[10,15,20,25],"title":null}},
     "color":{"field":"k","type":"nominal","scale":{"domain":["0.9","0.1","0.0"],"range":["#1f77b4","#ff7f0e","#2ca02c"]},"legend":null},
     "strokeDash":{"field":"s","type":"nominal","scale":{"domain":["solid","dashed","dotted"],"range":[[1,0],[15,6],[4,5.5]]},"legend":null},
     "detail":{"field":"c"},
     "order":{"field":"i","type":"quantitative"}}},
   {"data":{"name":"ms0_t"},"mark":"text","encoding":{"x":{"field":"x","type":"quantitative","axis":null},"y":{"field":"y","type":"quantitative","axis":null},"text":{"field":"t"}}},
   {"data":{"values":[{"t":"MS0","x":1.6,"y":27.11}]},"mark":{"type":"text","fontSize":21,"color":"#ff0000"},"encoding":{"x":{"field":"x","type":"quantitative","axis":null},"y":{"field":"y","type":"quantitative","axis":null},"text":{"field":"t"}}},
   {"data":{"name":"ms0_l"},"mark":{"type":"text","align":"left","font":"Liberation Serif","fontSize":22,"opacity":0.72},"encoding":{"x":{"field":"x","type":"quantitative","axis":null},"y":{"field":"y","type":"quantitative","axis":null},"text":{"value":"χ"},"color":{"field":"v","type":"nominal","scale":{"domain":["0.9","0.1","0.0"],"range":["#1f77b4","#ff7f0e","#2ca02c"]},"legend":null}}},
   {"data":{"name":"ms0_l"},"mark":{"type":"text","align":"left","font":"Liberation Serif","fontSize":14,"dx":14,"dy":4,"opacity":0.72},"encoding":{"x":{"field":"x","type":"quantitative","axis":null},"y":{"field":"y","type":"quantitative","axis":null},"text":{"value":"BH"},"color":{"field":"v","type":"nominal","scale":{"domain":["0.9","0.1","0.0"],"range":["#1f77b4","#ff7f0e","#2ca02c"]},"legend":null}}},
   {"data":{"name":"ms0_l"},"mark":{"type":"text","align":"left","font":"Liberation Serif","fontSize":22,"dx":40,"opacity":0.72},"encoding":{"x":{"field":"x","type":"quantitative","axis":null},"y":{"field":"y","type":"quantitative","axis":null},"text":{"value":"="},"color":{"field":"v","type":"nominal","scale":{"domain":["0.9","0.1","0.0"],"range":["#1f77b4","#ff7f0e","#2ca02c"]},"legend":null}}},
   {"data":{"name":"ms0_l"},"mark":{"type":"text","align":"left","font":"Liberation Serif","fontSize":22,"dx":59,"opacity":0.72},"encoding":{"x":{"field":"x","type":"quantitative","axis":null},"y":{"field":"y","type":"quantitative","axis":null},"text":{"field":"v"},"color":{"field":"v","type":"nominal","scale":{"domain":["0.9","0.1","0.0"],"range":["#1f77b4","#ff7f0e","#2ca02c"]},"legend":null}}},
   {"data":{"name":"stars"},"transform":[{"filter":{"field":"f","equal":"filled"}}],"mark":{"type":"point","shape":"M0,-1L0.2245,-0.309L0.951,-0.309L0.363,0.118L0.588,0.809L0,0.382L-0.588,0.809L-0.363,0.118L-0.951,-0.309L-0.2245,-0.309Z","size":560,"filled":true,"fill":"#000","stroke":"#000","strokeWidth":1.3,"opacity":1},
    "encoding":{"x":{"field":"x","type":"quantitative","axis":{"orient":"top","values":[1.2,1.3,1.4,1.5,1.6,1.7,1.8,1.9],"labels":false,"grid":false,"title":null}},"y":{"field":"y","type":"quantitative","axis":{"orient":"right","values":[10,15,20,25],"labels":false,"grid":false,"title":null}}}},
   {"data":{"name":"stars"},"transform":[{"filter":{"field":"f","equal":"open"}}],"mark":{"type":"point","shape":"M0,-1L0.2245,-0.309L0.951,-0.309L0.363,0.118L0.588,0.809L0,0.382L-0.588,0.809L-0.363,0.118L-0.951,-0.309L-0.2245,-0.309Z","size":560,"filled":true,"fill":"#fff","stroke":"#000","strokeWidth":1.3,"opacity":1},
    "encoding":{"x":{"field":"x","type":"quantitative","axis":null},"y":{"field":"y","type":"quantitative","axis":null}}}
  ]},
 {"width":570,"height":443,"resolve":{"axis":{"x":"independent","y":"independent"}},
  "layer":[
   {"data":{"name":"sly4"},"transform":[{"flatten":["x","y"]},{"window":[{"op":"row_number","as":"i"}],"groupby":["c"]}],"mark":{"type":"line","clip":true},
    "encoding":{
     "x":{"field":"x","type":"quantitative","scale":{"domain":[1.108,1.936],"nice":false,"zero":false},"axis":{"values":[1.2,1.3,1.4,1.5,1.6,1.7,1.8,1.9],"format":".1f","title":"MNS ( M☉ )"}},
     "y":{"field":"y","type":"quantitative","scale":{"domain":[5.53,17.77],"nice":false,"zero":false},"axis":{"values":[6,8,10,12,14,16],"title":"MBH ( M☉ )"}},
     "color":{"field":"k","type":"nominal","scale":{"domain":["0.9","0.1","0.0"],"range":["#1f77b4","#ff7f0e","#2ca02c"]},"legend":null},
     "strokeDash":{"field":"s","type":"nominal","scale":{"domain":["solid","dashed","dotted"],"range":[[1,0],[15,6],[4,5.5]]},"legend":null},
     "detail":{"field":"c"},
     "order":{"field":"i","type":"quantitative"}}},
   {"data":{"name":"sly4_t"},"mark":"text","encoding":{"x":{"field":"x","type":"quantitative","axis":null},"y":{"field":"y","type":"quantitative","axis":null},"text":{"field":"t"}}},
   {"data":{"values":[{"t":"SLy4","x":1.6,"y":17.08}]},"mark":{"type":"text","fontSize":21,"color":"#ff0000"},"encoding":{"x":{"field":"x","type":"quantitative","axis":null},"y":{"field":"y","type":"quantitative","axis":null},"text":{"field":"t"}}},
   {"data":{"name":"sly4_l"},"mark":{"type":"text","align":"left","font":"Liberation Serif","fontSize":22,"opacity":0.72},"encoding":{"x":{"field":"x","type":"quantitative","axis":null},"y":{"field":"y","type":"quantitative","axis":null},"text":{"value":"χ"},"color":{"field":"v","type":"nominal","scale":{"domain":["0.9","0.1","0.0"],"range":["#1f77b4","#ff7f0e","#2ca02c"]},"legend":null}}},
   {"data":{"name":"sly4_l"},"mark":{"type":"text","align":"left","font":"Liberation Serif","fontSize":14,"dx":14,"dy":4,"opacity":0.72},"encoding":{"x":{"field":"x","type":"quantitative","axis":null},"y":{"field":"y","type":"quantitative","axis":null},"text":{"value":"BH"},"color":{"field":"v","type":"nominal","scale":{"domain":["0.9","0.1","0.0"],"range":["#1f77b4","#ff7f0e","#2ca02c"]},"legend":null}}},
   {"data":{"name":"sly4_l"},"mark":{"type":"text","align":"left","font":"Liberation Serif","fontSize":22,"dx":40,"opacity":0.72},"encoding":{"x":{"field":"x","type":"quantitative","axis":null},"y":{"field":"y","type":"quantitative","axis":null},"text":{"value":"="},"color":{"field":"v","type":"nominal","scale":{"domain":["0.9","0.1","0.0"],"range":["#1f77b4","#ff7f0e","#2ca02c"]},"legend":null}}},
   {"data":{"name":"sly4_l"},"mark":{"type":"text","align":"left","font":"Liberation Serif","fontSize":22,"dx":59,"opacity":0.72},"encoding":{"x":{"field":"x","type":"quantitative","axis":null},"y":{"field":"y","type":"quantitative","axis":null},"text":{"field":"v"},"color":{"field":"v","type":"nominal","scale":{"domain":["0.9","0.1","0.0"],"range":["#1f77b4","#ff7f0e","#2ca02c"]},"legend":null}}},
   {"data":{"name":"stars"},"transform":[{"filter":{"field":"f","equal":"filled"}}],"mark":{"type":"point","shape":"M0,-1L0.2245,-0.309L0.951,-0.309L0.363,0.118L0.588,0.809L0,0.382L-0.588,0.809L-0.363,0.118L-0.951,-0.309L-0.2245,-0.309Z","size":560,"filled":true,"fill":"#000","stroke":"#000","strokeWidth":1.3,"opacity":1},
    "encoding":{"x":{"field":"x","type":"quantitative","axis":{"orient":"top","values":[1.2,1.3,1.4,1.5,1.6,1.7,1.8,1.9],"labels":false,"grid":false,"title":null}},"y":{"field":"y","type":"quantitative","axis":{"orient":"right","values":[6,8,10,12,14,16],"labels":false,"grid":false,"title":null}}}},
   {"data":{"name":"stars"},"transform":[{"filter":{"field":"f","equal":"open"}}],"mark":{"type":"point","shape":"M0,-1L0.2245,-0.309L0.951,-0.309L0.363,0.118L0.588,0.809L0,0.382L-0.588,0.809L-0.363,0.118L-0.951,-0.309L-0.2245,-0.309Z","size":560,"filled":true,"fill":"#fff","stroke":"#000","strokeWidth":1.3,"opacity":1},
    "encoding":{"x":{"field":"x","type":"quantitative","axis":null},"y":{"field":"y","type":"quantitative","axis":null}}}
  ]},
 {"width":570,"height":443,"resolve":{"axis":{"x":"independent","y":"independent"}},
  "layer":[
   {"data":{"name":"wff1"},"transform":[{"flatten":["x","y"]},{"window":[{"op":"row_number","as":"i"}],"groupby":["c"]}],"mark":{"type":"line","clip":true},
    "encoding":{
     "x":{"field":"x","type":"quantitative","scale":{"domain":[1.108,1.936],"nice":false,"zero":false},"axis":{"values":[1.2,1.3,1.4,1.5,1.6,1.7,1.8,1.9],"format":".1f","title":"MNS ( M☉ )"}},
     "y":{"field":"y","type":"quantitative","scale":{"domain":[5.53,15.48],"nice":false,"zero":false},"axis":{"values":[6,8,10,12,14],"title":null}},
     "color":{"field":"k","type":"nominal","scale":{"domain":["0.9","0.1","0.0"],"range":["#1f77b4","#ff7f0e","#2ca02c"]},"legend":null},
     "strokeDash":{"field":"s","type":"nominal","scale":{"domain":["solid","dashed","dotted"],"range":[[1,0],[15,6],[4,5.5]]},"legend":null},
     "detail":{"field":"c"},
     "order":{"field":"i","type":"quantitative"}}},
   {"data":{"name":"wff1_t"},"mark":"text","encoding":{"x":{"field":"x","type":"quantitative","axis":null},"y":{"field":"y","type":"quantitative","axis":null},"text":{"field":"t"}}},
   {"data":{"values":[{"t":"WFF1","x":1.6,"y":14.92}]},"mark":{"type":"text","fontSize":21,"color":"#ff0000"},"encoding":{"x":{"field":"x","type":"quantitative","axis":null},"y":{"field":"y","type":"quantitative","axis":null},"text":{"field":"t"}}},
   {"data":{"name":"wff1_l"},"mark":{"type":"text","align":"left","font":"Liberation Serif","fontSize":22,"opacity":0.72},"encoding":{"x":{"field":"x","type":"quantitative","axis":null},"y":{"field":"y","type":"quantitative","axis":null},"text":{"value":"χ"},"color":{"field":"v","type":"nominal","scale":{"domain":["0.9","0.1","0.0"],"range":["#1f77b4","#ff7f0e","#2ca02c"]},"legend":null}}},
   {"data":{"name":"wff1_l"},"mark":{"type":"text","align":"left","font":"Liberation Serif","fontSize":14,"dx":14,"dy":4,"opacity":0.72},"encoding":{"x":{"field":"x","type":"quantitative","axis":null},"y":{"field":"y","type":"quantitative","axis":null},"text":{"value":"BH"},"color":{"field":"v","type":"nominal","scale":{"domain":["0.9","0.1","0.0"],"range":["#1f77b4","#ff7f0e","#2ca02c"]},"legend":null}}},
   {"data":{"name":"wff1_l"},"mark":{"type":"text","align":"left","font":"Liberation Serif","fontSize":22,"dx":40,"opacity":0.72},"encoding":{"x":{"field":"x","type":"quantitative","axis":null},"y":{"field":"y","type":"quantitative","axis":null},"text":{"value":"="},"color":{"field":"v","type":"nominal","scale":{"domain":["0.9","0.1","0.0"],"range":["#1f77b4","#ff7f0e","#2ca02c"]},"legend":null}}},
   {"data":{"name":"wff1_l"},"mark":{"type":"text","align":"left","font":"Liberation Serif","fontSize":22,"dx":59,"opacity":0.72},"encoding":{"x":{"field":"x","type":"quantitative","axis":null},"y":{"field":"y","type":"quantitative","axis":null},"text":{"field":"v"},"color":{"field":"v","type":"nominal","scale":{"domain":["0.9","0.1","0.0"],"range":["#1f77b4","#ff7f0e","#2ca02c"]},"legend":null}}},
   {"data":{"name":"stars"},"transform":[{"filter":{"field":"f","equal":"filled"}}],"mark":{"type":"point","shape":"M0,-1L0.2245,-0.309L0.951,-0.309L0.363,0.118L0.588,0.809L0,0.382L-0.588,0.809L-0.363,0.118L-0.951,-0.309L-0.2245,-0.309Z","size":560,"filled":true,"fill":"#000","stroke":"#000","strokeWidth":1.3,"opacity":1},
    "encoding":{"x":{"field":"x","type":"quantitative","axis":{"orient":"top","values":[1.2,1.3,1.4,1.5,1.6,1.7,1.8,1.9],"labels":false,"grid":false,"title":null}},"y":{"field":"y","type":"quantitative","axis":{"orient":"right","values":[6,8,10,12,14],"labels":false,"grid":false,"title":null}}}},
   {"data":{"name":"stars"},"transform":[{"filter":{"field":"f","equal":"open"}}],"mark":{"type":"point","shape":"M0,-1L0.2245,-0.309L0.951,-0.309L0.363,0.118L0.588,0.809L0,0.382L-0.588,0.809L-0.363,0.118L-0.951,-0.309L-0.2245,-0.309Z","size":560,"filled":true,"fill":"#fff","stroke":"#000","strokeWidth":1.3,"opacity":1},
    "encoding":{"x":{"field":"x","type":"quantitative","axis":null},"y":{"field":"y","type":"quantitative","axis":null}}}
  ]}
]
}
